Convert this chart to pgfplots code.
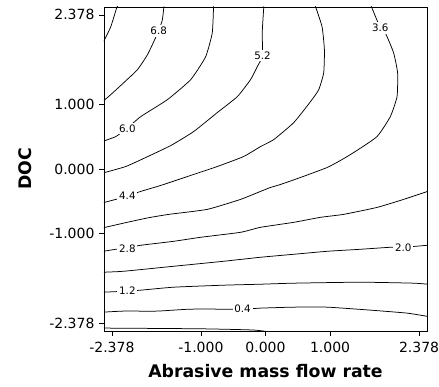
\documentclass[border=0pt]{standalone}
\usepackage{pgfplots}
\pgfplotsset{compat=1.18}
\usepackage{fontspec}
\setmainfont{DejaVu Sans}
\begin{document}
\begin{tikzpicture}
\begin{axis}[
  scale only axis, width=323pt, height=324pt,
  xmin=-2.5, xmax=2.5, ymin=-2.5, ymax=2.5,
  xtick={-2.378,-1,0,1,2.378}, ytick={-2.378,-1,0,1,2.378},
  xticklabels={-2.378,-1.000,0.000,1.000,2.378},
  yticklabels={-2.378,-1.000,0.000,1.000,2.378},
  tick pos=left, tick align=outside, major tick length=5pt,
  tick style={black, line width=0.7pt},
  ticklabel style={font=\fontsize{14}{16}\selectfont},
  xticklabel style={yshift=-2.5pt},
  yticklabel style={xshift=-1pt},
  xlabel={Abrasive mass flow rate}, ylabel={DOC},
  label style={font=\bfseries\fontsize{17.3}{20}\selectfont},
  xlabel style={at={(axis description cs:0.5,-0.142)}, anchor=base},
  ylabel style={at={(axis description cs:-0.2127,0.5)}, anchor=south},
  axis line style={line width=0.8pt},
  cont/.style={black, solid, line width=0.75pt, no marks, smooth, tension=0.3},
]
% 7.6
\addplot[cont] coordinates {(-2.28,2.52) (-2.30,2.50) (-2.396,2.193) (-2.51,1.96)};
% 6.8
\addplot[cont] coordinates {(-1.572,2.51) (-1.597,2.301) (-1.654,2.131) (-1.731,1.962) (-1.828,1.762) (-1.983,1.532) (-2.195,1.331) (-2.396,1.147) (-2.51,1.05)};
% 6.0
\addplot[cont] coordinates {(-0.804,2.51) (-0.824,2.101) (-0.927,1.732) (-1.159,1.378) (-1.519,1.070) (-1.932,0.808) (-2.148,0.623) (-2.318,0.500) (-2.51,0.43)};
% 5.2
\addplot[cont] coordinates {(-0.026,2.51) (-0.051,2.101) (-0.046,1.747) (-0.128,1.578) (-0.232,1.378) (-0.437,1.116) (-0.747,0.870) (-1.113,0.577) (-1.468,0.361) (-1.855,0.177) (-2.164,0.038) (-2.51,-0.06)};
% 4.4
\addplot[cont] coordinates {(0.773,2.51) (0.876,2.193) (0.912,1.840) (0.901,1.485) (0.824,1.224) (0.696,1.039) (0.437,0.716) (0.128,0.454) (-0.077,0.346) (-0.340,0.192) (-0.747,0.038) (-1.159,-0.100) (-1.623,-0.254) (-1.932,-0.346) (-2.138,-0.419) (-2.318,-0.469) (-2.51,-0.52)};
% 3.6
\addplot[cont] coordinates {(1.638,2.51) (1.777,2.178) (1.855,2.101) (1.983,1.793) (2.045,1.485) (2.036,1.116) (1.932,0.808) (1.726,0.500) (1.365,0.254) (1.185,0.146) (0.954,0.023) (0.541,-0.131) (0.232,-0.239) (0.077,-0.285) (-0.077,-0.346) (-0.386,-0.469) (-0.901,-0.623) (-1.495,-0.700) (-1.804,-0.751) (-2.164,-0.828) (-2.51,-0.907)};
% 2.8
\addplot[cont] coordinates {(2.51,-0.346) (2.138,-0.469) (1.726,-0.593) (1.210,-0.700) (0.850,-0.746) (0.437,-0.823) (-0.077,-0.900) (-0.386,-0.977) (-1.005,-1.054) (-1.422,-1.116) (-1.932,-1.177) (-2.148,-1.220) (-2.318,-1.239) (-2.51,-1.27)};
% 2.0
\addplot[cont] coordinates {(2.51,-1.177) (2.133,-1.208) (1.932,-1.208) (1.468,-1.239) (0.954,-1.270) (0.437,-1.316) (-0.077,-1.362) (-0.649,-1.424) (-1.422,-1.501) (-2.195,-1.578) (-2.51,-1.593)};
% 1.2
\addplot[cont] coordinates {(2.51,-1.778) (2.292,-1.762) (1.468,-1.747) (0.437,-1.762) (-0.077,-1.778) (-0.649,-1.793) (-1.422,-1.824) (-1.932,-1.870) (-2.148,-1.885) (-2.51,-1.901)};
% 0.4
\addplot[cont] coordinates {(2.51,-2.275) (2.190,-2.224) (1.623,-2.178) (0.954,-2.132) (0.433,-2.132) (-0.077,-2.147) (-0.355,-2.163) (-1.159,-2.163) (-1.674,-2.193) (-2.195,-2.193) (-2.51,-2.209)};
% -0.4
\addplot[cont] coordinates {(-2.51,-2.455) (-1.005,-2.466) (-0.185,-2.485) (0.1,-2.52)};
\begin{scope}[every node/.style={fill=white, inner sep=1.8pt, font=\fontsize{10.3}{11}\selectfont}]
\node at (axis cs:-1.654,2.132) {6.8};
\node at (axis cs:-0.046,1.747) {5.2};
\node at (axis cs:1.777,2.178) {3.6};
\node at (axis cs:-2.138,0.623) {6.0};
\node at (axis cs:-2.138,-0.419) {4.4};
\node at (axis cs:-2.138,-1.230) {2.8};
\node at (axis cs:2.133,-1.208) {2.0};
\node at (axis cs:-2.138,-1.885) {1.2};
\node at (axis cs:-0.355,-2.160) {0.4};
\end{scope}
\end{axis}
\pgfresetboundingbox
\path ([shift={(-104pt,-56pt)}]current axis.south west) rectangle ([shift={(12pt,7pt)}]current axis.north east);
\end{tikzpicture}
\end{document}
